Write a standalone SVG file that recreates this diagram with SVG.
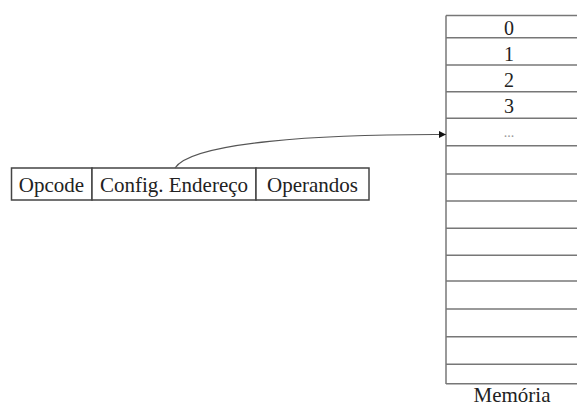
<svg xmlns="http://www.w3.org/2000/svg" width="577" height="406" viewBox="0 0 577 406">
  <style>
    .txt { font-family: "Liberation Serif", "Times New Roman", serif; fill: #222; text-anchor: middle; }
    .cell { fill: #fff; stroke: #444; stroke-width: 1.5; }
    .row { stroke: #777; stroke-width: 1.6; }
    .edge { fill: none; stroke: #555; stroke-width: 1.2; }
  </style>
  <defs>
    <marker id="arrow" viewBox="0 0 10 10" refX="10" refY="5" markerWidth="7" markerHeight="7" orient="auto" markerUnits="userSpaceOnUse">
      <path d="M0,0 L10,5 L0,10 z" fill="#111"/>
    </marker>
  </defs>
  <rect width="577" height="406" fill="#fff"/>

  <!-- instruction word -->
  <g id="opcode">
    <rect class="cell" x="11.5" y="168" width="80.5" height="32"/>
    <text class="txt" x="51.5" y="192" font-size="21">Opcode</text>
  </g>
  <g id="config">
    <rect class="cell" x="92" y="168" width="164" height="32"/>
    <text class="txt" x="174" y="192" font-size="21">Config. Endereço</text>
  </g>
  <g id="operandos">
    <rect class="cell" x="256" y="168" width="113" height="32"/>
    <text class="txt" x="312.5" y="192" font-size="21">Operandos</text>
  </g>

  <!-- memory column -->
  <g id="memoria">
    <line x1="446" y1="15.5" x2="446" y2="384" stroke="#999" stroke-width="2"/>
    <g class="row">
      <line x1="446" y1="15.5" x2="577" y2="15.5"/>
      <line x1="446" y1="37.7" x2="577" y2="37.7"/>
      <line x1="446" y1="65" x2="577" y2="65"/>
      <line x1="446" y1="91.7" x2="577" y2="91.7"/>
      <line x1="446" y1="118.3" x2="577" y2="118.3"/>
      <line x1="446" y1="145.7" x2="577" y2="145.7"/>
      <line x1="446" y1="174" x2="577" y2="174"/>
      <line x1="446" y1="201" x2="577" y2="201"/>
      <line x1="446" y1="228.3" x2="577" y2="228.3"/>
      <line x1="446" y1="255.3" x2="577" y2="255.3"/>
      <line x1="446" y1="281" x2="577" y2="281"/>
      <line x1="446" y1="309" x2="577" y2="309"/>
      <line x1="446" y1="336.7" x2="577" y2="336.7"/>
      <line x1="446" y1="364.3" x2="577" y2="364.3"/>
      <line x1="446" y1="383.7" x2="577" y2="383.7"/>
    </g>
    <text class="txt" x="509" y="35" font-size="20">0</text>
    <text class="txt" x="509" y="60.5" font-size="20">1</text>
    <text class="txt" x="509" y="87" font-size="20">2</text>
    <text class="txt" x="509" y="112.5" font-size="20">3</text>
    <text class="txt" x="509" y="137" font-size="14" fill="#999" style="fill:#999">...</text>
    <text class="txt" x="512" y="402" font-size="21">Memória</text>
  </g>

  <!-- connectors -->
  <g id="connectors">
    <path class="edge" d="M175,168 C192,142 320,134 446,134.5" marker-end="url(#arrow)"/>
  </g>
</svg>
